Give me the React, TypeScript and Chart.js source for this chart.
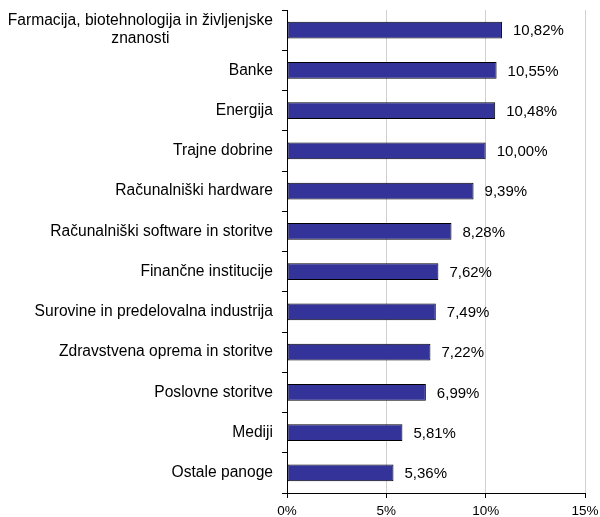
import React, { useEffect, useRef } from "react";
import { Chart, registerables } from "chart.js";

Chart.register(...registerables);

const categories: (string | string[])[] = [
  ["Farmacija, biotehnologija in življenjske", "znanosti"],
  "Banke",
  "Energija",
  "Trajne dobrine",
  "Računalniški hardware",
  "Računalniški software in storitve",
  "Finančne institucije",
  "Surovine in predelovalna industrija",
  "Zdravstvena oprema in storitve",
  "Poslovne storitve",
  "Mediji",
  "Ostale panoge",
];

const values: number[] = [10.82, 10.55, 10.48, 10.0, 9.39, 8.28, 7.62, 7.49, 7.22, 6.99, 5.81, 5.36];

const xTicks: number[] = [0, 5, 10, 15];

const FONT = '"Liberation Sans", Arial, sans-serif';

const fmt = (v: number) => v.toFixed(2).replace(".", ",") + "%";

const labelPlugin = {
  id: "customLabels",
  afterDatasetsDraw(chart: any) {
    const ctx = chart.ctx;
    const area = chart.chartArea;
    const yScale = chart.scales.y;
    ctx.save();
    ctx.fillStyle = "#000";
    ctx.font = `15.6px ${FONT}`;
    ctx.textBaseline = "middle";
    // category labels
    categories.forEach((cat, i) => {
      const y = yScale.getPixelForValue(i);
      const right = area.left - 14;
      if (Array.isArray(cat)) {
        const w = ctx.measureText(cat[0]).width;
        const cx = right - w / 2;
        const lh = 18;
        const startY = y - ((cat.length - 1) * lh) / 2;
        ctx.textAlign = "center";
        cat.forEach((line, j) => ctx.fillText(line, cx, startY + j * lh));
      } else {
        ctx.textAlign = "right";
        ctx.fillText(cat, right, y);
      }
    });
    // data labels
    ctx.font = `15px ${FONT}`;
    const meta = chart.getDatasetMeta(0);
    ctx.textAlign = "left";
    meta.data.forEach((bar: any, i: number) => {
      ctx.fillText(fmt(values[i]), bar.x + 11, bar.y + 1);
    });
    ctx.restore();
  },
};

export default function App() {
  const ref = useRef<HTMLCanvasElement | null>(null);
  useEffect(() => {
    if (!ref.current) return;
    const chart = new Chart(ref.current, {
      type: "bar",
      data: {
        labels: categories as any,
        datasets: [
          {
            data: values,
            backgroundColor: "#333399",
            borderColor: "#000000",
            borderWidth: 1,
            borderSkipped: false,
            barPercentage: 0.42,
            categoryPercentage: 1,
          },
        ],
      },
      options: {
        indexAxis: "y",
        animation: false,
        responsive: true,
        maintainAspectRatio: false,
        layout: { padding: { top: 10, right: 15, left: 0, bottom: 0 } },
        plugins: {
          legend: { display: false },
          tooltip: { enabled: false },
        },
        scales: {
          x: {
            min: 0,
            max: 15,
            afterBuildTicks: (scale: any) => {
              scale.ticks = xTicks.map((v) => ({ value: v }));
            },
            afterFit: (scale: any) => {
              scale.height = 24;
              scale.paddingLeft = 0;
              scale.paddingRight = 0;
            },
            ticks: {
              callback: (v: any) => `${v}%`,
              color: "#000",
              font: { family: FONT, size: 13.5 },
              padding: 5,
              maxRotation: 0,
            },
            grid: {
              color: "#d0d0d0",
              tickColor: "#000",
              tickLength: 5,
              lineWidth: 1,
            },
            border: { color: "#000", width: 1 },
          },
          y: {
            type: "category",
            offset: true,
            afterFit: (scale: any) => {
              scale.width = 287;
              scale.paddingTop = 0;
              scale.paddingBottom = 0;
            },
            ticks: { display: false },
            grid: {
              offset: true,
              drawOnChartArea: false,
              tickColor: "#000",
              tickLength: 5,
            },
            border: { color: "#000", width: 1 },
          },
        },
      },
      plugins: [labelPlugin],
    });
    return () => chart.destroy();
  }, []);
  return (
    <div style={{ position: "fixed", left: 0, top: 0, width: 600, height: 517, background: "#fff" }}>
      <canvas ref={ref} />
    </div>
  );
}
